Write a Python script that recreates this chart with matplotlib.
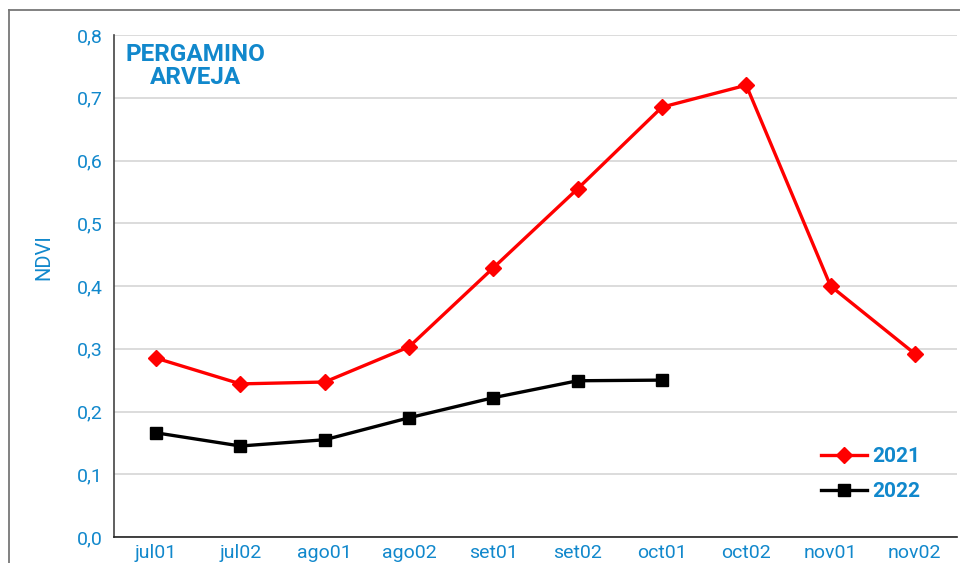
import numpy as np
import matplotlib
matplotlib.use("Agg")
import matplotlib.pyplot as plt
from matplotlib.lines import Line2D

plt.rcParams['font.family'] = ['Roboto', 'DejaVu Sans']

BLUE = '#1188CC'
RED = '#FF0000'

periods = ['jul01', 'jul02', 'ago01', 'ago02', 'set01', 'set02',
           'oct01', 'oct02', 'nov01', 'nov02']
ndvi_2021 = [0.285, 0.244, 0.247, 0.303, 0.429, 0.555, 0.685, 0.720, 0.400, 0.292]
ndvi_2022 = [0.166, 0.145, 0.155, 0.190, 0.222, 0.249, 0.250]
y_ticks = [0.0, 0.1, 0.2, 0.3, 0.4, 0.5, 0.6, 0.7, 0.8]

fig = plt.figure(figsize=(9.6, 5.63), dpi=100)
ax = fig.add_axes([114 / 960, 1 - 537 / 563, (957 - 114) / 960, (537 - 35) / 563])

# outer frame, cut off at the right and bottom edges
W, H = 960, 563
fig.add_artist(Line2D([9 / W, 9 / W], [0, 1 - 10 / H], color='#777777', lw=1.3))
fig.add_artist(Line2D([9 / W, 1], [1 - 10 / H, 1 - 10 / H], color='#777777', lw=1.3))

x = np.arange(len(periods))
ax.plot(x, ndvi_2021, color=RED, lw=2.4, marker='D', ms=8, label='2021')
ax.plot(x[:len(ndvi_2022)], ndvi_2022, color='black', lw=2.4, marker='s', ms=9,
        label='2022')

ax.set_xlim(-0.5, len(periods) - 0.5)
ax.set_ylim(0, 0.8)
ax.set_xticks(x)
ax.set_xticklabels(periods)
ax.set_yticks(y_ticks)
ax.set_yticklabels([f'{v:.1f}'.replace('.', ',') for v in y_ticks])
ax.tick_params(axis='both', length=0, labelsize=14, labelcolor=BLUE, pad=5)
ax.tick_params(axis='y', pad=8)

ax.grid(axis='y', color='#d9d9d9', lw=1.3)
ax.set_axisbelow(True)
for side in ['top', 'right']:
    ax.spines[side].set_visible(False)
ax.spines['left'].set_color('#444444')
ax.spines['bottom'].set_color('#222222')
ax.spines['left'].set_linewidth(1.2)
ax.spines['bottom'].set_linewidth(1.2)

ax.set_ylabel('NDVI', color=BLUE, fontsize=14.5)
ax.yaxis.set_label_coords(-0.072, 0.558)

ax.text(0.097, 0.985, 'PERGAMINO\nARVEJA', transform=ax.transAxes,
        ha='center', va='top', fontsize=17.5, fontweight='bold', color=BLUE,
        linespacing=1.0)

leg = ax.legend(loc='lower left', bbox_to_anchor=(0.839, 0.072), frameon=False,
                fontsize=15, handlelength=2.2, handletextpad=0.25,
                labelspacing=0.75, borderpad=0, borderaxespad=0)
for t in leg.get_texts():
    t.set_color(BLUE)
    t.set_fontweight('bold')

fig.savefig('out.png', dpi=100)
